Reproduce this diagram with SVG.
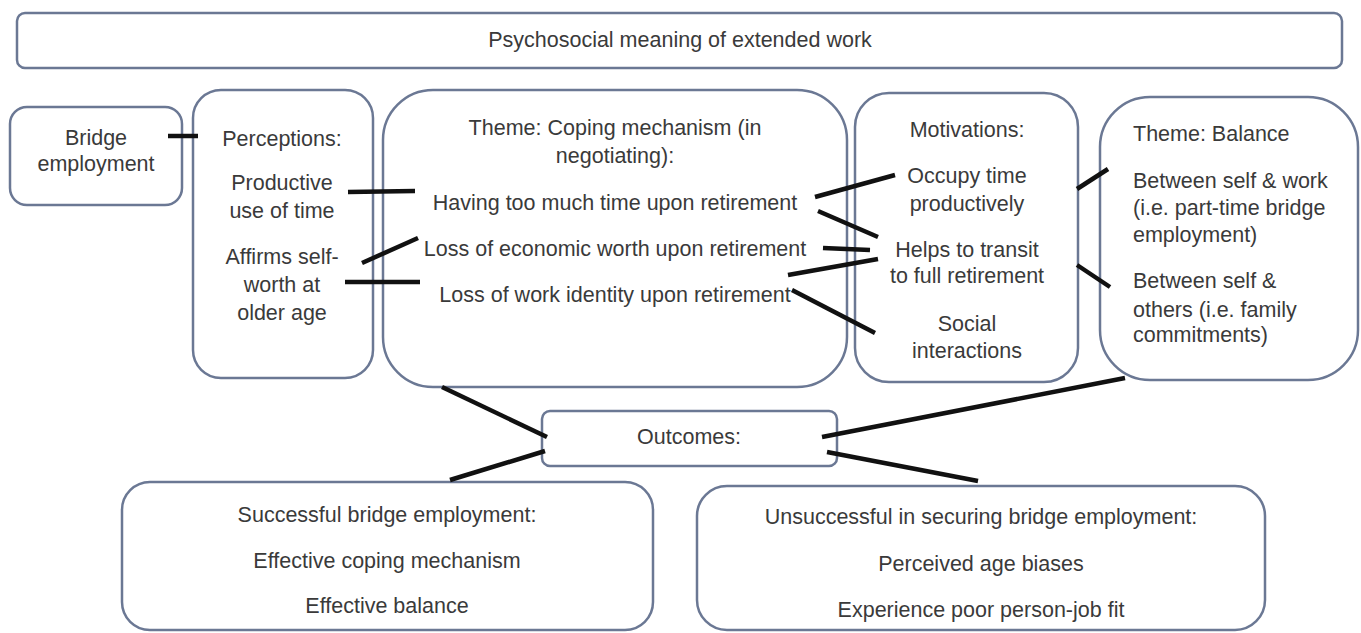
<svg xmlns="http://www.w3.org/2000/svg" width="1361" height="633" viewBox="0 0 1361 633">
  <style>
    .box { fill: #ffffff; stroke: #6b7894; stroke-width: 2.5; }
    .t { font-family: "Liberation Sans", Arial, sans-serif; font-size: 21.5px; fill: #3a3a3a; }
    .c { text-anchor: middle; }
    .link { stroke: #111111; stroke-width: 4.5; stroke-linecap: butt; fill: none; }
  </style>
  <rect width="1361" height="633" fill="#ffffff"/>

  <g id="title">
    <rect class="box" x="17" y="13" width="1325" height="55" rx="8"/>
    <text class="t c" x="680" y="47">Psychosocial meaning of extended work</text>
  </g>

  <g id="bridge">
    <rect class="box" x="10" y="107" width="172" height="98" rx="17"/>
    <text class="t c" x="96" y="145">Bridge</text>
    <text class="t c" x="96" y="171">employment</text>
  </g>

  <g id="perceptions">
    <rect class="box" x="193" y="90" width="180" height="288" rx="28"/>
    <text class="t c" x="282" y="146">Perceptions:</text>
    <text class="t c" x="282" y="190">Productive</text>
    <text class="t c" x="282" y="218">use of time</text>
    <text class="t c" x="282" y="264">Affirms self-</text>
    <text class="t c" x="282" y="292">worth at</text>
    <text class="t c" x="282" y="320">older age</text>
  </g>

  <g id="coping">
    <rect class="box" x="383" y="90" width="464" height="297" rx="50"/>
    <text class="t c" x="615" y="135">Theme: Coping mechanism (in</text>
    <text class="t c" x="615" y="163">negotiating):</text>
    <text class="t c" x="615" y="210">Having too much time upon retirement</text>
    <text class="t c" x="615" y="256">Loss of economic worth upon retirement</text>
    <text class="t c" x="615" y="302">Loss of work identity upon retirement</text>
  </g>

  <g id="motivations">
    <rect class="box" x="855" y="93" width="223" height="289" rx="34"/>
    <text class="t c" x="967" y="137">Motivations:</text>
    <text class="t c" x="967" y="183">Occupy time</text>
    <text class="t c" x="967" y="211">productively</text>
    <text class="t c" x="967" y="257">Helps to transit</text>
    <text class="t c" x="967" y="283">to full retirement</text>
    <text class="t c" x="967" y="331">Social</text>
    <text class="t c" x="967" y="358">interactions</text>
  </g>

  <g id="balance">
    <rect class="box" x="1100" y="97" width="258" height="283" rx="50"/>
    <text class="t" x="1133" y="141">Theme: Balance</text>
    <text class="t" x="1133" y="188">Between self &amp; work</text>
    <text class="t" x="1133" y="215">(i.e. part-time bridge</text>
    <text class="t" x="1133" y="242">employment)</text>
    <text class="t" x="1133" y="288">Between self &amp;</text>
    <text class="t" x="1133" y="317">others (i.e. family</text>
    <text class="t" x="1133" y="342">commitments)</text>
  </g>

  <g id="outcomes">
    <rect class="box" x="542" y="411" width="295" height="55" rx="8"/>
    <text class="t c" x="689" y="444">Outcomes:</text>
  </g>

  <g id="successful">
    <rect class="box" x="122" y="482" width="531" height="148" rx="28"/>
    <text class="t c" x="387" y="522">Successful bridge employment:</text>
    <text class="t c" x="387" y="568">Effective coping mechanism</text>
    <text class="t c" x="387" y="613">Effective balance</text>
  </g>

  <g id="unsuccessful">
    <rect class="box" x="697" y="486" width="568" height="144" rx="30"/>
    <text class="t c" x="981" y="524">Unsuccessful in securing bridge employment:</text>
    <text class="t c" x="981" y="571">Perceived age biases</text>
    <text class="t c" x="981" y="617">Experience poor person-job fit</text>
  </g>

  <!-- connectors, drawn over the box outlines -->
  <g id="connectors">
    <line class="link" x1="168" y1="136" x2="198" y2="136"/>
    <line class="link" x1="348" y1="192" x2="415" y2="191"/>
    <line class="link" x1="362" y1="263" x2="418" y2="238"/>
    <line class="link" x1="345" y1="282" x2="420" y2="282"/>
    <line class="link" x1="815" y1="197" x2="895" y2="175"/>
    <line class="link" x1="818" y1="211" x2="878" y2="237"/>
    <line class="link" x1="823" y1="248" x2="870" y2="250"/>
    <line class="link" x1="788" y1="275" x2="878" y2="259"/>
    <line class="link" x1="792" y1="290" x2="875" y2="333"/>
    <line class="link" x1="1077" y1="189" x2="1108" y2="169"/>
    <line class="link" x1="1077" y1="265" x2="1110" y2="287"/>
    <line class="link" x1="442" y1="387" x2="547" y2="437"/>
    <line class="link" x1="450" y1="480" x2="545" y2="451"/>
    <line class="link" x1="822" y1="437" x2="1125" y2="378"/>
    <line class="link" x1="827" y1="452" x2="978" y2="481"/>
  </g>
</svg>
